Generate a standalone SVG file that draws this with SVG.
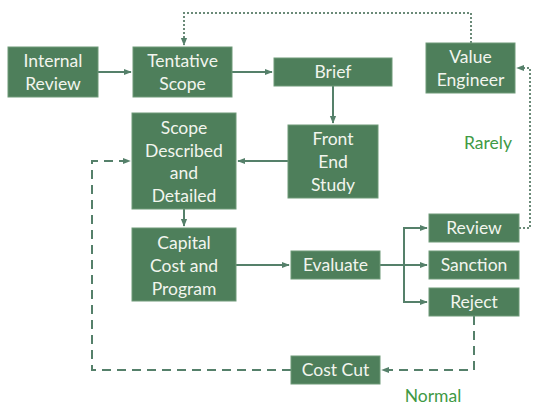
<svg xmlns="http://www.w3.org/2000/svg" width="533" height="407" viewBox="0 0 533 407">
<style>
.box{fill:#4e7f5b;stroke:#6e9a78;stroke-width:1}
.t{font-family:Lato,"Noto Sans",sans-serif;font-size:17.5px;fill:#f2f5ee;text-anchor:middle}
.c{fill:none;stroke:#55806a;stroke-width:2}
.dash{stroke-dasharray:9 6}
.dot{stroke:#6a8a78;stroke-dasharray:2 2}
.lbl{font-family:Lato,"Noto Sans",sans-serif;font-size:17.5px;fill:#3f9a45;text-anchor:middle}
</style>
<defs>
<marker id="a" viewBox="0 0 10 10" refX="9" refY="5" markerWidth="4" markerHeight="4" orient="auto">
<path d="M0,1 L10,5 L0,9 z" fill="#55806a"/>
</marker>
</defs>
<g id="connectors">
<path class="c" d="M98,72 H131" marker-end="url(#a)"/>
<path class="c" d="M232,72 H272" marker-end="url(#a)"/>
<path class="c" d="M333,86 V123" marker-end="url(#a)"/>
<path class="c" d="M288,161 H238" marker-end="url(#a)"/>
<path class="c" d="M184,209 V226" marker-end="url(#a)"/>
<path class="c" d="M236,265 H289" marker-end="url(#a)"/>
<path class="c" d="M380,265 H427"  marker-end="url(#a)"/>
<path class="c" d="M427,228 H404 V302 H427" marker-end="url(#a)"/>
<path class="c" d="M404,228 H427" marker-end="url(#a)"/>
<path class="c dot" d="M519,228 H530 V68 H517" marker-end="url(#a)"/>
<path class="c dot" d="M471,43 V13 H184 V45" marker-end="url(#a)"/>
<path class="c dash" d="M474,316 V370 H382" marker-end="url(#a)"/>
<path class="c dash" d="M291,370 H92 V161 H130" marker-end="url(#a)"/>
</g>
<g id="internal-review"><rect class="box" x="8" y="47" width="90" height="50"/><text class="t" x="53" y="67">Internal</text><text class="t" x="53" y="90">Review</text></g>
<g id="tentative-scope"><rect class="box" x="133" y="47" width="99" height="50"/><text class="t" x="182.5" y="67">Tentative</text><text class="t" x="182.5" y="90">Scope</text></g>
<g id="brief"><rect class="box" x="274" y="58" width="118" height="28"/><text class="t" x="333" y="78">Brief</text></g>
<g id="value-engineer"><rect class="box" x="426" y="43" width="89" height="50"/><text class="t" x="470.5" y="63">Value</text><text class="t" x="470.5" y="86">Engineer</text></g>
<g id="scope-described"><rect class="box" x="132" y="113" width="104" height="96"/><text class="t" x="184" y="134">Scope</text><text class="t" x="184" y="157">Described</text><text class="t" x="184" y="179">and</text><text class="t" x="184" y="202">Detailed</text></g>
<g id="front-end-study"><rect class="box" x="288" y="125" width="90" height="73"/><text class="t" x="333" y="145">Front</text><text class="t" x="333" y="168">End</text><text class="t" x="333" y="191">Study</text></g>
<g id="capital-cost"><rect class="box" x="132" y="228" width="104" height="73"/><text class="t" x="184" y="249">Capital</text><text class="t" x="184" y="272">Cost and</text><text class="t" x="184" y="295">Program</text></g>
<g id="evaluate"><rect class="box" x="291" y="251" width="89" height="28"/><text class="t" x="335.5" y="271">Evaluate</text></g>
<g id="review"><rect class="box" x="429" y="214" width="90" height="28"/><text class="t" x="474" y="234">Review</text></g>
<g id="sanction"><rect class="box" x="429" y="251" width="90" height="28"/><text class="t" x="474" y="271">Sanction</text></g>
<g id="reject"><rect class="box" x="429" y="288" width="90" height="28"/><text class="t" x="474" y="308">Reject</text></g>
<g id="cost-cut"><rect class="box" x="291" y="356" width="89" height="28"/><text class="t" x="335.5" y="376">Cost Cut</text></g>
<text class="lbl" x="488" y="149">Rarely</text>
<text class="lbl" x="433" y="402">Normal</text>
</svg>
